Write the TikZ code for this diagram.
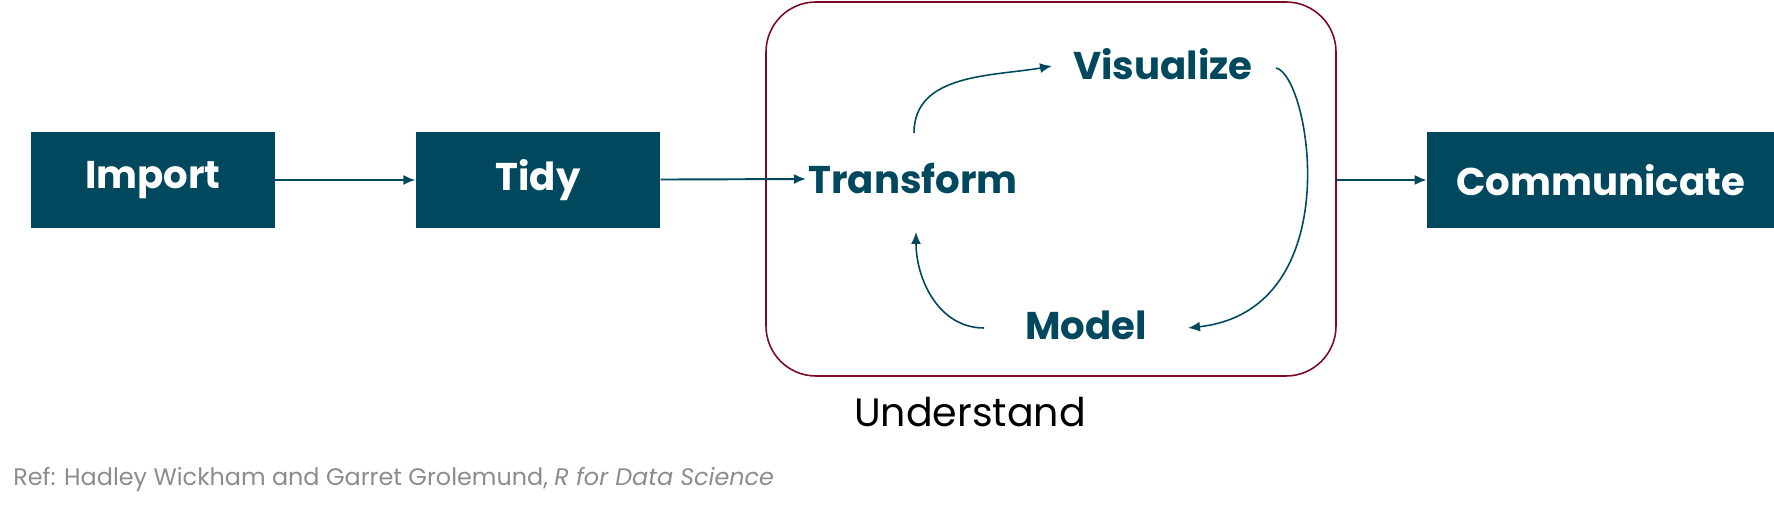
\documentclass[tikz,border=0pt]{standalone}
\usepackage{fontspec}
\setmainfont{Poppins}
\usepackage{tikz}
\usetikzlibrary{arrows.meta}
\definecolor{petrol}{HTML}{00485D}
\definecolor{wine}{HTML}{7C0A22}
\definecolor{refgray}{HTML}{8C8C8C}
\tikzstyle{stepbox}=[rectangle, fill=petrol, text=white, minimum width=4.89cm, minimum height=1.93cm, inner sep=0pt, font=\fontsize{22}{27}\selectfont\bfseries]
\tikzstyle{loopnode}=[text=petrol, inner sep=0pt, font=\fontsize{22}{27}\selectfont\bfseries]
\tikzstyle{understand}=[rectangle, draw=wine, line width=0.9pt, rounded corners=1cm, minimum width=11.4cm, minimum height=7.48cm]
\tikzstyle{flow}=[-{Latex[length=0.24cm,width=0.2cm]}, draw=petrol, line width=1.1pt]
\tikzstyle{loopflow}=[-{Latex[length=0.24cm,width=0.2cm]}, draw=petrol, line width=0.9pt]

\begin{document}
\begin{tikzpicture}
\useasboundingbox (0,0) rectangle (35.48,10.2);
%Boxes
\node[stepbox] (imp) at (3.055,6.6){Import};
\node[stepbox] (tidy) at (10.76,6.6){Tidy};
\node[stepbox, minimum width=6.94cm] (comm) at (32.01,6.6){Communicate};
\node[understand] (und) at (21.02,6.42){};
%Cycle
\node[loopnode] (tr) at (18.26,6.62){Transform};
\node[loopnode] (vis) at (23.26,8.91){Visualize};
\node[loopnode] (mod) at (21.72,3.69){Model};
%Labels
\node[font=\fontsize{22.5}{27}\selectfont] (undlbl) at (19.4,1.96){Understand};
\node[anchor=west, text=refgray, font=\fontsize{13.6}{16}\selectfont, inner sep=0pt] (ref) at (0.26,0.62){Ref: Hadley Wickham and Garret Grolemund, \textit{R for Data Science}};
%Arrows
\draw[flow] (imp) -- (tidy);
\draw[flow] (tidy) -- ([xshift=-0.04cm]tr.west);
\draw[flow] (und.east |- comm.west) -- (comm.west);
\draw[loopflow] ([xshift=0.02cm,yshift=0.92cm]tr.center) to[out=90,in=190] ([xshift=-2.22cm,yshift=-0.03cm]vis.center);
\draw[loopflow] ([xshift=2.26cm,yshift=-0.07cm]vis.center) .. controls +(0.68,-0.14) and +(3.24,0.36) .. ([xshift=2.04cm,yshift=-0.05cm]mod.center);
\draw[loopflow] ([xshift=-2.04cm,yshift=-0.05cm]mod.center) to[out=180,in=-90] ([xshift=0.06cm,yshift=-1.06cm]tr.center);
\end{tikzpicture}
\end{document}
